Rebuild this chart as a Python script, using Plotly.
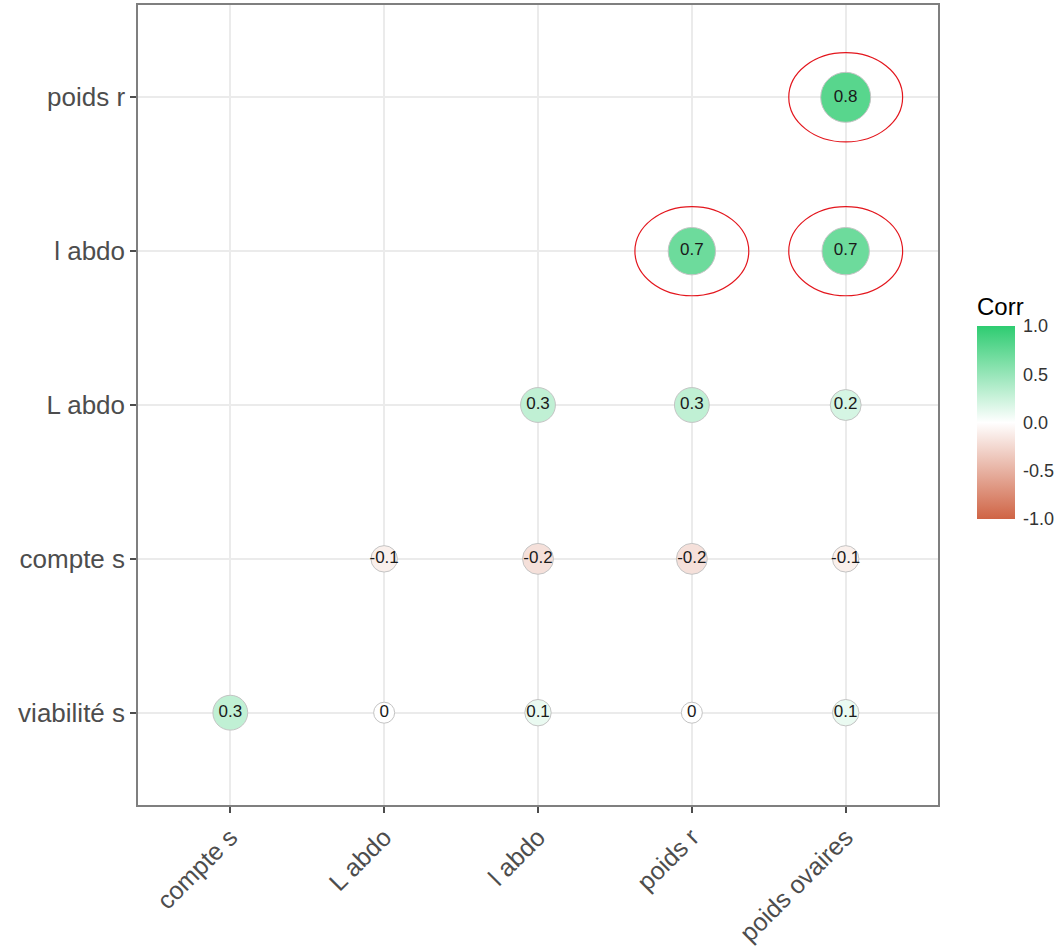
import math
import plotly.graph_objects as go

# Lower-triangle correlation matrix (rounded to one decimal)
x_vars = ["compte s", "L abdo", "l abdo", "poids r", "poids ovaires"]
y_vars = ["viabilité s", "compte s", "L abdo", "l abdo", "poids r"]

pair_x = ["compte s", "L abdo", "l abdo", "poids r", "poids ovaires",
          "L abdo", "l abdo", "poids r", "poids ovaires",
          "l abdo", "poids r", "poids ovaires",
          "poids r", "poids ovaires",
          "poids ovaires"]
pair_y = ["viabilité s"] * 5 + ["compte s"] * 4 + ["L abdo"] * 3 + ["l abdo"] * 2 + ["poids r"]
corr = [0.3, 0, 0.1, 0, 0.1,
        -0.1, -0.2, -0.2, -0.1,
        0.3, 0.3, 0.2,
        0.7, 0.7,
        0.8]

# Cells singled out with a red ellipse
highlight_x = ["poids ovaires", "poids r", "poids ovaires"]
highlight_y = ["poids r", "l abdo", "l abdo"]

FONT = "Liberation Sans, Arial, sans-serif"

# circle area grows linearly with |r|
d_min, d_max = 21.0, 50.0
r_max = max(abs(v) for v in corr)
sizes = [math.sqrt(d_min ** 2 + (d_max ** 2 - d_min ** 2) * abs(v) / r_max) for v in corr]
labels = [("%g" % v) for v in corr]

colorscale = [[0.0, "#cf6445"], [0.5, "#ffffff"], [1.0, "#2ecc71"]]

fig = go.Figure()
fig.add_trace(go.Scatter(
    x=pair_x, y=pair_y, mode="markers+text",
    text=labels, textposition="middle center",
    textfont=dict(family=FONT, size=17, color="#1a1a1a"),
    marker=dict(
        size=sizes, color=corr, cmin=-1, cmax=1, colorscale=colorscale,
        line=dict(color="#c4c4c4", width=1), opacity=1,
        colorbar=dict(
            title=dict(text="Corr", side="top", font=dict(family=FONT, size=24, color="#000")),
            thickness=38, len=225, lenmode="pixels",
            x=(977 - 138) / 800, xanchor="left", xref="paper", xpad=0,
            y=(805 - 519) / 800, yanchor="bottom", ypad=0,
            tickvals=[-1, -0.5, 0, 0.5, 1],
            ticktext=["-1.0", "-0.5", "0.0", "0.5", "1.0"],
            ticks="outside", ticklen=5, tickcolor="rgba(0,0,0,0)",
            tickfont=dict(family=FONT, size=18, color="#333"),
            outlinewidth=0,
        ),
    ),
    hoverinfo="skip", showlegend=False,
))

x_idx = {v: i for i, v in enumerate(x_vars)}
y_idx = {v: i for i, v in enumerate(y_vars)}
for hx, hy in zip(highlight_x, highlight_y):
    cx, cy = x_idx[hx], y_idx[hy]
    fig.add_shape(type="circle", xref="x", yref="y",
                  x0=cx - 0.37, x1=cx + 0.37, y0=cy - 0.29, y1=cy + 0.29,
                  line=dict(color="#e3161d", width=1.2), layer="above")

axis_common = dict(
    type="category", showgrid=True, gridcolor="#ebebeb", gridwidth=1.5,
    showline=True, linecolor="#7f7f7f", linewidth=1.5, mirror=True,
    ticks="outside", ticklen=6, tickwidth=1.5, tickcolor="#4d4d4d",
    zeroline=False, fixedrange=True,
)
fig.update_xaxes(categoryorder="array", categoryarray=x_vars,
                 range=[-0.6, len(x_vars) - 0.4], tickangle=-45,
                 tickfont=dict(family=FONT, size=25, color="#4d4d4d"), **axis_common)
fig.update_yaxes(categoryorder="array", categoryarray=y_vars,
                 range=[-0.6, len(y_vars) - 0.4],
                 tickfont=dict(family=FONT, size=26, color="#4d4d4d"), **axis_common)

fig.update_layout(
    width=1059, height=948,
    margin=dict(l=138, r=121, t=5, b=143, autoexpand=False),
    plot_bgcolor="white", paper_bgcolor="white",
    font=dict(family=FONT),
)

fig.write_html("out.html")
